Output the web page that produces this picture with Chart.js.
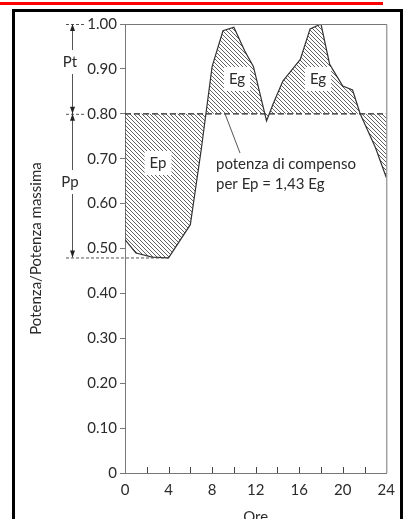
<!DOCTYPE html>
<html>
<head>
<meta charset="utf-8">
<script src="https://cdn.jsdelivr.net/npm/chart.js@4/dist/chart.umd.min.js"></script>
<style>
  html, body { margin: 0; padding: 0; background: #fff; overflow: hidden; }
  #wrap { position: relative; width: 403px; height: 519px; }
</style>
</head>
<body>
<div id="wrap"><canvas id="myChart" width="403" height="519"></canvas></div>
<script>
// hours and relative power
const HOURS = [0, 1, 2.5, 4, 6, 7, 8, 9, 10, 11, 11.8, 13, 13.6, 14.5, 15.4, 16.1, 17, 18, 18.8, 20, 20.9, 21.6, 23, 24];
const POWER = [0.52, 0.49, 0.481, 0.479, 0.553, 0.72, 0.905, 0.985, 0.993, 0.94, 0.905, 0.784, 0.822, 0.873, 0.9, 0.921, 0.989, 1.0, 0.91, 0.862, 0.853, 0.8, 0.725, 0.658];
const COMPENSO = 0.8;
const P_MIN = 0.48;
const Y_TICKS = [0, 0.1, 0.2, 0.3, 0.4, 0.5, 0.6, 0.7, 0.8, 0.9, 1.0];
const X_LABELS = [0, 4, 8, 12, 16, 20, 24];

const FONT = 'Lato, "Open Sans", sans-serif';
const TXT = '#2b2b2b';
const AXIS = '#777';

const makeHatch = () => {
  const c = document.createElement('canvas');
  c.width = 4;
  c.height = 4;
  const g = c.getContext('2d');
  g.strokeStyle = '#3a3a3a';
  g.lineWidth = 0.8;
  g.beginPath();
  g.moveTo(0, 0); g.lineTo(4, 4);
  g.moveTo(-1, 3); g.lineTo(1, 5);
  g.moveTo(3, -1); g.lineTo(5, 1);
  g.stroke();
  return c.getContext('2d').createPattern(c, 'repeat');
};

const labelBox = (ctx, text, x, y) => {
  ctx.font = '15px ' + FONT;
  const w = ctx.measureText(text).width;
  ctx.fillStyle = '#fff';
  ctx.fillRect(x - w / 2 - 5, y - 12, w + 10, 24);
  ctx.fillStyle = TXT;
  ctx.textAlign = 'center';
  ctx.textBaseline = 'middle';
  ctx.fillText(text, x, y);
};

const arrow = (ctx, x, y, dir) => {
  ctx.beginPath();
  ctx.moveTo(x, y);
  ctx.lineTo(x - 2.5, y - dir * 7);
  ctx.lineTo(x + 2.5, y - dir * 7);
  ctx.closePath();
  ctx.fill();
};

const decor = {
  id: 'decor',
  beforeDraw(chart) {
    const ctx = chart.ctx;
    ctx.save();
    // red rule and black page frame
    ctx.fillStyle = '#ff0000';
    ctx.fillRect(0, 2, 383, 3);
    ctx.fillStyle = '#000';
    ctx.fillRect(12, 9, 403, 3);
    ctx.fillRect(12, 9, 3, 519);
    ctx.fillRect(400, 9, 3, 519);
    ctx.restore();
  },
  afterDraw(chart) {
    const ctx = chart.ctx;
    const xs = chart.scales.x;
    const ys = chart.scales.y;
    const a = chart.chartArea;
    ctx.save();
    // plot frame
    ctx.strokeStyle = AXIS;
    ctx.lineWidth = 1;
    ctx.beginPath();
    ctx.moveTo(a.left, a.top + 0.5);
    ctx.lineTo(a.right + 0.5, a.top + 0.5);
    ctx.lineTo(a.right + 0.5, a.bottom);
    ctx.stroke();
    // x ticks pointing inward
    ctx.strokeStyle = '#444';
    ctx.beginPath();
    for (let h = 2; h < 24; h += 2) {
      const px = Math.round(xs.getPixelForValue(h)) + 0.5;
      ctx.moveTo(px, a.bottom);
      ctx.lineTo(px, a.bottom - 6);
    }
    ctx.stroke();

    // dimension lines Pt / Pp
    const y100 = ys.getPixelForValue(1.0);
    const y80 = ys.getPixelForValue(COMPENSO);
    const yMin = ys.getPixelForValue(P_MIN);
    const vx = 72;
    ctx.strokeStyle = '#555';
    ctx.setLineDash([3, 2]);
    ctx.beginPath();
    ctx.moveTo(66, y100 + 0.5); ctx.lineTo(86, y100 + 0.5);
    ctx.moveTo(66, y80 + 0.5); ctx.lineTo(86, y80 + 0.5);
    ctx.moveTo(66, yMin + 0.5); ctx.lineTo(xs.getPixelForValue(4), yMin + 0.5);
    ctx.stroke();
    ctx.setLineDash([]);
    ctx.beginPath();
    ctx.moveTo(vx + 0.5, y100); ctx.lineTo(vx + 0.5, yMin);
    ctx.stroke();
    ctx.fillStyle = '#222';
    arrow(ctx, vx + 0.5, y100, -1);
    arrow(ctx, vx + 0.5, y80, 1);
    arrow(ctx, vx + 0.5, y80, -1);
    arrow(ctx, vx + 0.5, yMin, 1);
    labelBox(ctx, 'Pt', 70, 62);
    labelBox(ctx, 'Pp', 70, 182);

    // area labels
    labelBox(ctx, 'Ep', 158, 163);
    labelBox(ctx, 'Eg', 237, 79);
    labelBox(ctx, 'Eg', 318, 79);

    // compensation note with leader
    ctx.strokeStyle = '#555';
    ctx.beginPath();
    ctx.moveTo(225, y80);
    ctx.lineTo(240, 153);
    ctx.stroke();
    ctx.fillStyle = TXT;
    ctx.font = '15px ' + FONT;
    ctx.textAlign = 'left';
    ctx.textBaseline = 'middle';
    ctx.fillText('potenza di compenso', 216, 164);
    ctx.fillText('per Ep = 1,43 Eg', 216, 184);
    ctx.restore();
  },
};

const ctx = document.getElementById('myChart').getContext('2d');
const myChart = new Chart(ctx, {
  type: 'line',
  data: {
    datasets: [
      {
        label: 'Potenza',
        data: HOURS.map((h, i) => ({ x: h, y: POWER[i] })),
        borderColor: '#333',
        borderWidth: 1.2,
        backgroundColor: makeHatch(),
        fill: { value: COMPENSO },
        pointRadius: 0,
        tension: 0,
      },
      {
        label: 'Compenso',
        data: [{ x: 0, y: COMPENSO }, { x: 24, y: COMPENSO }],
        borderColor: '#222',
        borderWidth: 1.3,
        borderDash: [6, 3],
        pointRadius: 0,
        fill: false,
      },
    ],
  },
  options: {
    responsive: false,
    animation: false,
    layout: { padding: { left: 0, right: 10, top: 24, bottom: 0 } },
    plugins: { legend: { display: false }, tooltip: { enabled: false } },
    scales: {
      x: {
        type: 'linear',
        min: 0,
        max: 24,
        afterBuildTicks: (scale) => {
          scale.ticks = X_LABELS.map((v) => ({ value: v }));
        },
        afterFit: (scale) => { scale.height = 46; },
        grid: { drawOnChartArea: false, drawTicks: false },
        border: { color: AXIS, width: 1 },
        ticks: { color: TXT, font: { family: FONT, size: 15 }, padding: 8, maxRotation: 0 },
        title: {
          display: true,
          text: 'Ore',
          color: TXT,
          font: { family: FONT, size: 15 },
          padding: { top: 4, bottom: -7 },
        },
      },
      y: {
        min: 0,
        max: 1,
        afterBuildTicks: (scale) => {
          scale.ticks = Y_TICKS.map((v) => ({ value: v }));
        },
        afterFit: (scale) => { scale.width = 125; },
        grid: { drawOnChartArea: false, tickLength: 5, color: AXIS },
        border: { color: AXIS, width: 1 },
        ticks: {
          color: TXT,
          font: { family: FONT, size: 15 },
          padding: 3,
          callback: (v) => (v === 0 ? '0' : v.toFixed(2)),
        },
        title: {
          display: true,
          text: 'Potenza/Potenza massima',
          color: TXT,
          font: { family: FONT, size: 15 },
          padding: { top: 27, bottom: 0 },
        },
      },
    },
  },
  plugins: [decor],
});
</script>
</body>
</html>
